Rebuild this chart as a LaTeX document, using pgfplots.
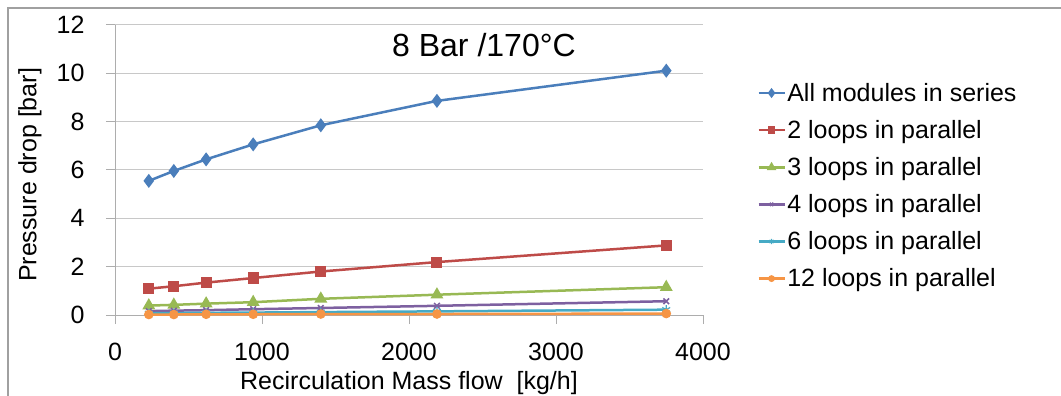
\documentclass[border=0pt]{standalone}
\usepackage{fontspec}
\setmainfont{Liberation Sans}
\usepackage{pgfplots}
\pgfplotsset{compat=1.18}
\definecolor{cBlue}{HTML}{4A7EBB}
\definecolor{cRed}{HTML}{BE4B48}
\definecolor{cGreen}{HTML}{98B954}
\definecolor{cPurple}{HTML}{7D60A0}
\definecolor{cCyan}{HTML}{46AAC5}
\definecolor{cOrange}{HTML}{F69545}
\definecolor{gridc}{HTML}{C8C8C8}
\definecolor{axc}{HTML}{ADADAD}
\definecolor{bordc}{HTML}{A0A0A0}
\begin{document}
\begin{tikzpicture}
\useasboundingbox (0bp,0bp) rectangle (1061bp,396bp);
\draw[bordc, line width=1.5bp] (8bp,0bp) -- (8bp,388bp) -- (1061bp,388bp);
\begin{axis}[
  at={(115bp,81bp)}, anchor=south west,
  scale only axis, width=588bp, height=290bp,
  xmin=0, xmax=4000, ymin=0, ymax=12,
  xtick={0,1000,2000,3000,4000},
  ytick={0,2,4,6,8,10,12},
  axis x line*=bottom, axis y line*=left,
  axis line style={axc, line width=1bp},
  ymajorgrids, grid style={gridc, line width=1bp},
  tick align=outside, major tick length=9bp,
  tick style={axc, line width=1bp},
  /pgf/number format/assume math mode=true,
  /pgf/number format/1000 sep={},
  tick label style={font=\fontsize{25bp}{30bp}\selectfont},
  xticklabel style={yshift=-16bp},
  yticklabel style={xshift=-18bp},
  every axis x label/.style={at={(axis description cs:0.5,0)}, anchor=center, yshift=-68bp, font=\fontsize{25bp}{30bp}\selectfont},
  every axis y label/.style={at={(axis description cs:-0.1446,0.483)}, anchor=center, rotate=90, font=\fontsize{25bp}{30bp}\selectfont},
  xlabel={Recirculation Mass flow\ \ [kg/h]},
  ylabel={Pressure drop [bar]},
  clip=false,
  legend cell align=left,
  legend style={draw=none, fill=none, font=\fontsize{25bp}{30bp}\selectfont,
    at={(axis description cs:1.092,0.805)}, anchor=north west,
    row sep=14.5bp, inner sep=0pt, nodes={inner sep=1.5bp}},
  legend image code/.code={\draw[mark repeat=2, mark phase=2, every mark/.append style={scale=0.6}] plot coordinates {(0bp,0bp) (13bp,0bp) (26bp,0bp)};},
  every axis plot/.append style={line width=2.5bp},
]
\addplot[cBlue, mark=diamond*, mark size=5bp] coordinates {
(230,5.55) (400,5.96) (620,6.44) (940,7.06) (1400,7.85) (2190,8.86) (3750,10.11)};
\addlegendentry{All modules in series}
\addplot[cRed, mark=square*, mark size=4.3bp] coordinates {
(230,1.09) (400,1.19) (620,1.34) (940,1.53) (1400,1.80) (2190,2.19) (3750,2.88)};
\addlegendentry{2 loops in parallel}
\addplot[cGreen, mark=triangle*, mark size=5bp] coordinates {
(230,0.39) (400,0.42) (620,0.47) (940,0.53) (1400,0.67) (2190,0.84) (3750,1.15)};
\addlegendentry{3 loops in parallel}
\addplot[cPurple, mark=x, mark size=4bp, mark options={line width=1.5bp}] coordinates {
(230,0.16) (400,0.18) (620,0.20) (940,0.24) (1400,0.29) (2190,0.38) (3750,0.57)};
\addlegendentry{4 loops in parallel}
\addplot[cCyan, mark=asterisk, mark size=4.5bp, mark options={line width=1.2bp}] coordinates {
(230,0.07) (400,0.08) (620,0.09) (940,0.10) (1400,0.12) (2190,0.15) (3750,0.22)};
\addlegendentry{6 loops in parallel}
\addplot[cOrange, mark=*, mark size=3.5bp] coordinates {
(230,0.02) (400,0.02) (620,0.03) (940,0.03) (1400,0.04) (2190,0.04) (3750,0.06)};
\addlegendentry{12 loops in parallel}
\node[font=\fontsize{32bp}{38bp}\selectfont] at (axis cs:2510,11.17) {8 Bar /170°C};
\end{axis}
\end{tikzpicture}
\end{document}
